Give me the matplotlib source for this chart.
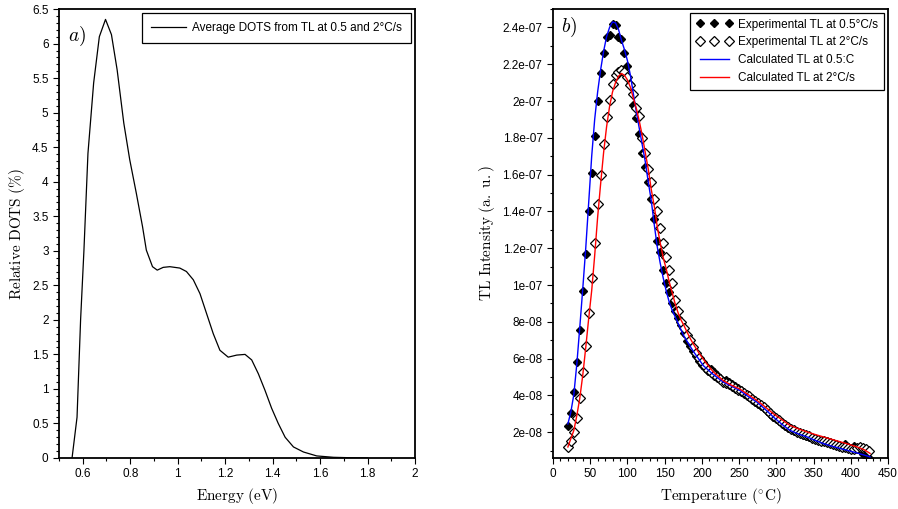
import numpy as np
import matplotlib.pyplot as plt
from matplotlib.ticker import MultipleLocator, FuncFormatter

plt.rcParams["font.family"] = ["Liberation Sans", "DejaVu Sans"]
plt.rcParams["mathtext.fontset"] = "cm"

# a) average DOTS
energy = [0.555, 0.576, 0.591, 0.605, 0.622, 0.646, 0.670, 0.696, 0.721, 0.745,
          0.773, 0.798, 0.826, 0.852, 0.868, 0.894, 0.914, 0.939, 0.967, 1.009,
          1.037, 1.066, 1.094, 1.122, 1.150, 1.178, 1.213, 1.249, 1.284, 1.312,
          1.340, 1.368, 1.396, 1.424, 1.453, 1.488, 1.530, 1.586, 1.657, 1.75, 1.8]
dots = [0.0, 0.59, 2.0, 3.0, 4.41, 5.43, 6.1, 6.35, 6.13, 5.62,
        4.85, 4.32, 3.83, 3.35, 3.01, 2.77, 2.72, 2.76, 2.77, 2.75,
        2.70, 2.58, 2.38, 2.09, 1.80, 1.56, 1.46, 1.49, 1.50, 1.42,
        1.22, 0.98, 0.72, 0.50, 0.30, 0.16, 0.087, 0.03, 0.01, 0.002, 0.0]

# b) TL glow curves (intensity in units of 1e-9)
t_exp = list(range(20, 425, 4))
tl_exp_05 = [23.6, 30.5, 42, 58, 75.5, 96.5, 117, 140, 161, 181,
             200, 215, 226, 235, 236, 242, 241.5, 235, 233.5, 226,
             219, 209, 198, 191, 182, 172, 164, 156, 147, 136,
             124, 118, 108, 101, 96, 90, 86, 82, 78.5, 74,
             69.5, 67, 64, 61.5, 58.5, 56.5, 55, 53.5, 54.5, 52.5,
             51, 49.5, 48, 48.5, 47.5, 46, 45, 44, 43, 41.5,
             40.5, 39, 38, 36.5, 35.5, 34.5, 33, 31.5, 30, 28.5,
             27.5, 26, 25, 23.5, 22.5, 21.5, 20.5, 20, 19.5, 18.5,
             18, 17.5, 17, 16.5, 16, 15.5, 15.5, 15, 14.5, 14,
             13.5, 13, 12.5, 13.5, 12, 11.5, 12.5, 11, 10.5, 8,
             7, 6]
tl_exp_2 = [11.8, 15.1, 20, 27.8, 38.7, 53, 67, 85, 103.6, 123,
            144, 160, 176.7, 191.3, 200.6, 209, 214.4, 215.8, 216.7, 215.8,
            213, 208.5, 204, 196, 192, 180, 172, 163, 156, 147,
            140, 131, 123, 115, 108, 101, 92, 86, 80, 76.5,
            73, 70, 66.5, 63, 60.5, 58, 56, 54, 52.5, 51,
            50, 49, 47.5, 46.5, 46, 45, 44, 43, 42.5, 41.5,
            40.5, 39.5, 38, 37, 36, 35, 33.5, 32, 30.5, 29,
            27.5, 26.5, 25, 24, 23, 22, 21, 20, 19.5, 19,
            18.5, 18, 17, 16.5, 16, 15.5, 15, 14.5, 14, 13.5,
            13, 12.5, 12, 12, 11.5, 11, 11, 11.5, 12, 11.5,
            11, 10]

t_calc_05 = [20, 24, 28, 32, 36, 40, 44, 48, 52, 56, 60, 64, 68, 72, 76, 80, 84,
             88, 92, 96, 100, 104, 108, 112, 116, 120, 124, 128, 132, 136, 140,
             144, 148, 152, 156, 160, 165, 170, 175, 180, 188, 202, 215, 229,
             240, 251, 262, 274, 285, 296, 307, 318, 330, 341, 352, 363, 374,
             386, 397, 408, 418, 426]
tl_calc_05 = [24.5, 31, 40.5, 57, 77, 98, 120, 145, 170, 190, 205, 217, 227, 235,
              240, 243, 242.5, 239, 233, 228, 222, 214, 204, 194, 185, 176, 167,
              156, 146, 133, 121, 112, 104, 97, 91, 86.5, 82, 77.5, 73, 69.5,
              64.3, 56.2, 51.5, 47.2, 45, 42.7, 39.5, 36.4, 32.5, 28.3, 24.5,
              21.1, 19, 17.5, 15.6, 13.9, 12.5, 11.2, 10, 8.8, 7.6, 6.6]

t_calc_2 = [20, 24, 28, 32, 36, 40, 44, 48, 52, 56, 60, 64, 68, 72, 76, 80, 84,
            88, 92, 96, 100, 104, 108, 112, 116, 120, 124, 128, 132, 136, 140,
            144, 148, 152, 156, 160, 164, 168, 172, 176, 180, 185, 190, 197,
            205, 215, 229, 240, 251, 262, 274, 285, 296, 307, 318, 330, 341,
            352, 363, 374, 386, 397, 408, 418, 426]
tl_calc_2 = [12, 16.5, 21, 29, 38.5, 51, 66, 82, 97, 116, 137, 155, 172, 186, 197,
             205, 210, 213.5, 215, 214, 211.5, 207.5, 201.5, 196, 189, 181, 172,
             163, 152, 143, 132, 123, 115, 109, 102, 96, 90, 85, 81, 78, 74.5,
             70.5, 67, 62.5, 58, 53, 48, 45.5, 43.5, 40.5, 37.3, 33.8, 30.1, 27,
             23.8, 21.8, 20.2, 18.8, 17.5, 16.2, 14.8, 13.5, 12.1, 10.5, 8.5]

scale = 1e-9

fig = plt.figure(figsize=(8.98, 5.09), dpi=100)
ax1 = fig.add_axes([0.0657, 0.1002, 0.3964, 0.882])
ax2 = fig.add_axes([0.6158, 0.1002, 0.373, 0.882])

for ax in (ax1, ax2):
    for s in ax.spines.values():
        s.set_linewidth(1.3)
    ax.tick_params(which="both", direction="out", top=False, right=False,
                   labelsize=8.5, width=0.8)
    ax.tick_params(which="major", length=4)
    ax.tick_params(which="minor", length=2)

fmt = FuncFormatter(lambda v, p: "%g" % round(v, 12))

# panel a
ax1.plot(energy, dots, color="black", lw=0.9,
         label="Average DOTS from TL at 0.5 and 2°C/s")
ax1.set_xlim(0.5, 2.0)
ax1.set_ylim(0, 6.5)
ax1.xaxis.set_major_locator(MultipleLocator(0.2))
ax1.xaxis.set_minor_locator(MultipleLocator(0.1))
ax1.yaxis.set_major_locator(MultipleLocator(0.5))
ax1.yaxis.set_minor_locator(MultipleLocator(0.1))
ax1.xaxis.set_major_formatter(fmt)
ax1.yaxis.set_major_formatter(fmt)
ax1.set_xlabel(r"$\mathrm{Energy\ (eV)}$", fontsize=11)
ax1.set_ylabel(r"$\mathrm{Relative\ DOTS\ (\%)}$", fontsize=11)
ax1.text(0.025, 0.965, r"$a)$", transform=ax1.transAxes, fontsize=14,
         ha="left", va="top")
leg1 = ax1.legend(loc="upper right", fontsize=8.5, handlelength=3.0,
                  handletextpad=0.5, borderpad=0.75,
                  fancybox=False, edgecolor="black", framealpha=1,
                  borderaxespad=0.35)
leg1.get_frame().set_linewidth(0.9)

# panel b
ax2.plot(np.array(t_exp), np.array(tl_exp_05) * scale, ls="none", marker="D",
         ms=4, color="black", label="Experimental TL at 0.5°C/s", zorder=2)
ax2.plot(np.array(t_exp), np.array(tl_exp_2) * scale, ls="none", marker="D",
         ms=5, mfc="white", mec="black", mew=0.9,
         label="Experimental TL at 2°C/s", zorder=2)
ax2.plot(t_calc_05, np.array(tl_calc_05) * scale, color="blue", lw=1,
         label="Calculated TL at 0.5:C", zorder=3)
ax2.plot(t_calc_2, np.array(tl_calc_2) * scale, color="red", lw=1,
         label="Calculated TL at 2°C/s", zorder=3)
ax2.set_xlim(0, 450)
ax2.set_ylim(6e-9, 2.5e-7)
ax2.xaxis.set_major_locator(MultipleLocator(50))
ax2.xaxis.set_minor_locator(MultipleLocator(10))
ax2.yaxis.set_major_locator(MultipleLocator(2e-8))
ax2.yaxis.set_minor_locator(MultipleLocator(1e-8))
ax2.xaxis.set_major_formatter(fmt)
ax2.yaxis.set_major_formatter(FuncFormatter(lambda v, p: "%g" % float("%.3g" % v)))
ax2.set_xlabel(r"$\mathrm{Temperature\ (^{\circ}C)}$", fontsize=11)
ax2.set_ylabel(r"$\mathrm{TL\ Intensity\ (a.\ u.)}$", fontsize=11)
ax2.text(0.025, 0.985, r"$b)$", transform=ax2.transAxes, fontsize=14,
         ha="left", va="top")
leg2 = ax2.legend(loc="upper right", fontsize=8.5, numpoints=3,
                  handlelength=3.1, handletextpad=0.5, labelspacing=0.5,
                  borderpad=0.5,
                  fancybox=False, edgecolor="black", framealpha=1,
                  borderaxespad=0.3)
leg2.get_frame().set_linewidth(0.9)

fig.savefig("out.png", dpi=100)
